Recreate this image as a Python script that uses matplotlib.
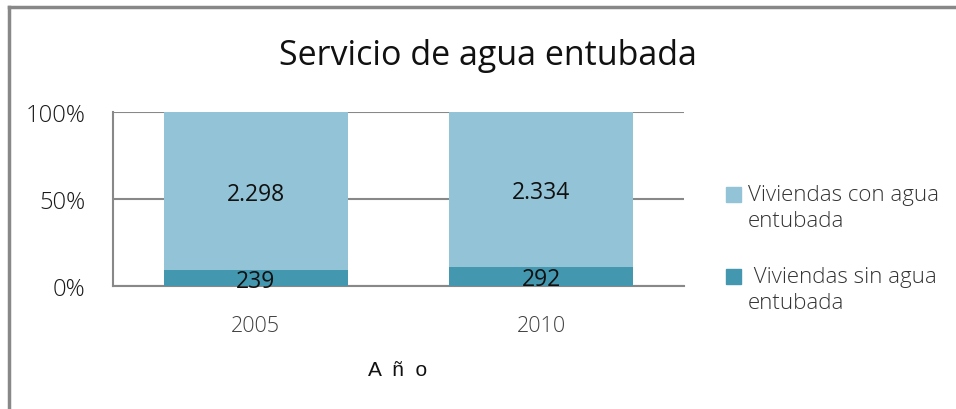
import matplotlib.pyplot as plt
import numpy as np
from matplotlib.lines import Line2D
from matplotlib.patches import Rectangle

# Datos
anios = ["2005", "2010"]
sin_agua = [239, 292]
con_agua = [2298, 2334]
etiquetas = ["Viviendas con agua\nentubada", " Viviendas sin agua\nentubada"]

plt.rcParams['font.family'] = ['Open Sans', 'DejaVu Sans']
plt.rcParams['font.weight'] = 300

total = np.array(sin_agua) + np.array(con_agua)
p_sin = np.array(sin_agua) / total * 100
p_con = np.array(con_agua) / total * 100

fig = plt.figure(figsize=(9.56, 4.10), dpi=100)
ax = fig.add_axes([113 / 956, 1 - 287 / 410, (684 - 113) / 956, (287 - 113) / 410])

x = np.arange(len(anios))
c_con = "#93C3D6"
c_sin = "#4397AF"
ax.bar(x, p_sin, width=0.645, color=c_sin, zorder=3)
ax.bar(x, p_con, bottom=p_sin, width=0.645, color=c_con, zorder=3)

for i in range(len(anios)):
    ax.text(x[i], p_sin[i] / 2, f"{sin_agua[i]}", ha="center", va="center_baseline",
            fontsize=16.5, fontweight="normal", color="#111111", zorder=4)
    ax.text(x[i], p_sin[i] + p_con[i] / 2, f"{con_agua[i]:,}".replace(",", "."),
            ha="center", va="center_baseline", fontsize=16.5, fontweight="normal",
            color="#111111", zorder=4)

ax.set_xlim(-0.5, 1.5)
ax.set_ylim(0, 100)
ax.set_yticks([0, 50, 100])
ax.set_yticklabels(["0%", "50%", "100%"], fontsize=17, color="#1a1a1a")
ax.set_xticks(x)
ax.set_xticklabels(anios, fontsize=15.5, color="#404040")
ax.tick_params(length=0)
ax.tick_params(axis="y", pad=20)
ax.tick_params(axis="x", pad=21)
ax.grid(axis="y", color="#888888", linewidth=1.5, zorder=0)
for s in ["top", "right"]:
    ax.spines[s].set_visible(False)
ax.spines["left"].set_color("#888888")
ax.spines["left"].set_linewidth(1.5)
ax.spines["bottom"].set_color("#888888")
ax.spines["bottom"].set_linewidth(1.5)

fig.text(488 / 956, 1 - 56 / 410, "Servicio de agua entubada", ha="center", va="center",
         fontsize=24.5, fontweight="normal", color="#111111")
fig.text(398 / 956, 1 - 371 / 410, "A  ñ  o", ha="center", va="center",
         fontsize=15, family="Liberation Sans", fontweight="normal", color="#111111")

# Leyenda manual
colores_ley = [c_con, c_sin]
cuadros_y = [188, 270]
texto_x = [748, 748]
for etq, col, yy, tx in zip(etiquetas, colores_ley, cuadros_y, texto_x):
    fig.add_artist(Rectangle((726 / 956, 1 - (yy + 15) / 410), 15 / 956, 15 / 410,
                             transform=fig.transFigure, color=col))
    fig.text(tx / 956, 1 - (yy - 3) / 410, etq, ha="left", va="top", fontsize=16,
             linespacing=1.32, color="#333333")

# Borde del gráfico
fig.add_artist(Line2D([8.5 / 956, 8.5 / 956], [0, 1 - 8 / 410], color="#888888", lw=2.5))
fig.add_artist(Line2D([8.5 / 956, 1], [1 - 8 / 410, 1 - 8 / 410], color="#888888", lw=2.5))

fig.savefig("out.png", dpi=100)
